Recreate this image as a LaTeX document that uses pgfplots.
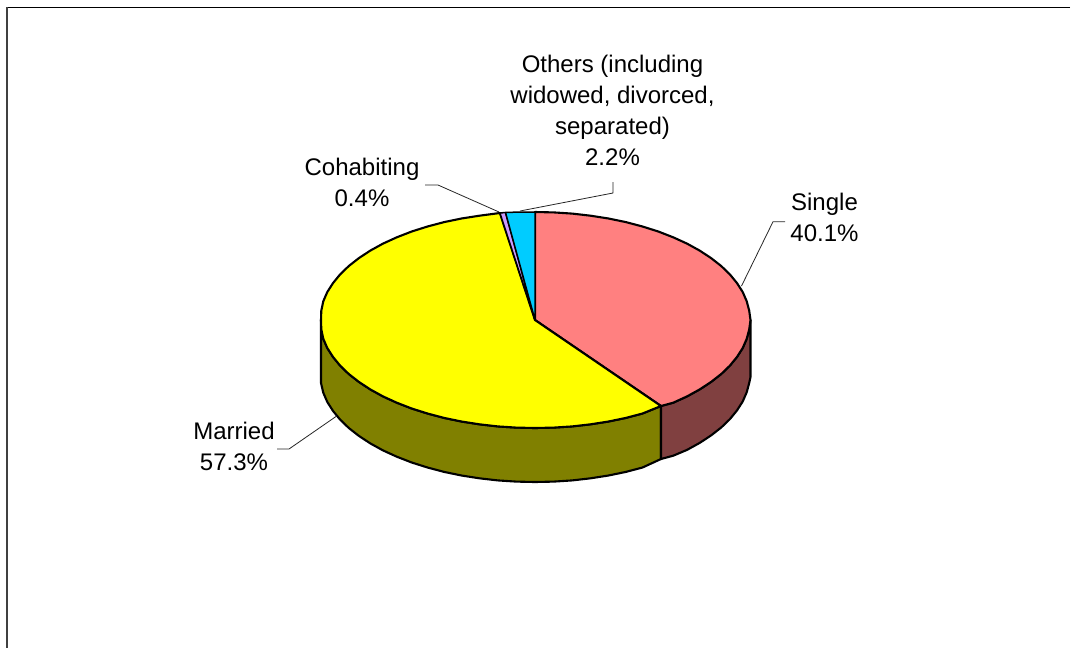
\documentclass[border=0pt]{standalone}
\usepackage{pgfplots}
\pgfplotsset{compat=1.18}
\usepackage{fontspec}
\setmainfont{Liberation Sans}
\definecolor{pinkS}{HTML}{FF8080}
\definecolor{brownS}{HTML}{804040}
\definecolor{yelM}{HTML}{FFFF00}
\definecolor{oliveM}{HTML}{808000}
\definecolor{purC}{HTML}{CC99FF}
\definecolor{cyanO}{HTML}{00CCFF}
\tikzset{lbl/.style={font=\fontsize{24}{31}\selectfont, align=center, anchor=center, inner sep=0pt}}
\begin{document}
\begin{tikzpicture}[x=1pt,y=1pt]
\begin{axis}[
  scale only axis, width=1076pt, height=648pt,
  xmin=0, xmax=1076, ymin=0, ymax=648, y dir=reverse,
  axis lines=none, clip=false,
  every axis plot/.append style={line join=round},
]
% page extent
\addplot[draw=none] coordinates {(0,0)(1076,648)};
% frame
\addplot[black, line width=1.3pt] coordinates {(1070,7.5) (7,7.5)};
\addplot[black!75, line width=1.8pt] coordinates {(7,7) (7,648)};
% side walls
\addplot[fill=oliveM, draw=black, line width=2.1pt] coordinates {
(661,406)(642.5,413.5)(625.9,417.9)(608.5,421.5)(590.6,424.3)(572.3,426.4)(553.7,427.6)(535,428)(516.3,427.6)(497.7,426.4)(479.4,424.3)(461.5,421.5)(444.1,417.9)(427.5,413.5)(411.7,408.5)(396.8,402.7)(383,396.4)(370.3,389.4)(358.9,381.9)(348.8,374)(340.1,365.6)(333,356.9)(327.3,348)(323.3,338.8)(321.3,329.4)(321,320)
(321,383)(323.3,392.8)(327.3,402)(333,410.9)(340.1,419.6)(348.8,428)(358.9,435.9)(370.3,443.4)(383,450.4)(396.8,456.7)(411.7,462.5)(427.5,467.5)(444.1,471.9)(461.5,475.5)(479.4,478.3)(497.7,480.4)(516.3,481.6)(535,482)(553.7,481.6)(572.3,480.4)(590.6,478.3)(608.5,475.5)(625.9,471.9)(642.5,467.5)(661,459)} -- cycle;
\addplot[fill=brownS, draw=black, line width=2.1pt] coordinates {
(750.5,320)(749.2,329.4)(746.7,338.8)(742.7,348)(737,356.9)(729.9,365.6)(721.2,374)(711.1,381.9)(699.7,389.4)(687,396.4)(673.2,402.7)(661,406)
(661,459)(673.2,455.7)(687,449.9)(699.7,442.9)(711.1,435.4)(721.2,427.5)(729.9,419.1)(737,410.4)(742.7,401.5)(746.7,392.3)(749.2,383)(750.5,377)} -- cycle;
% top wedges
\addplot[fill=pinkS, draw=black, line width=2.1pt] coordinates {
(535,320)(535,212)(553.7,212.4)(572.3,213.6)(590.6,215.7)(608.5,218.5)(625.9,222.1)(642.5,226.5)(658.3,231.5)(673.2,237.3)(687,243.6)(699.7,250.6)(711.1,258.1)(721.2,266)(729.9,274.4)(737,283.1)(742.7,292)(746.7,301.2)(749.2,310.6)(750.5,320)(749.2,329.4)(746.7,338.8)(742.7,348)(737,356.9)(729.9,365.6)(721.2,374)(711.1,381.9)(699.7,389.4)(687,396.4)(673.2,402.7)(661,406)} -- cycle;
\addplot[fill=yelM, draw=black, line width=2.1pt] coordinates {
(535,320)(661,406)(642.5,413.5)(625.9,417.9)(608.5,421.5)(590.6,424.3)(572.3,426.4)(553.7,427.6)(535,428)(516.3,427.6)(497.7,426.4)(479.4,424.3)(461.5,421.5)(444.1,417.9)(427.5,413.5)(411.7,408.5)(396.8,402.7)(383,396.4)(370.3,389.4)(358.9,381.9)(348.8,374)(340.1,365.6)(333,356.9)(327.3,348)(323.3,338.8)(321.3,329.4)(321,320)(321.3,310.6)(323.3,301.2)(327.3,292)(333,283.1)(340.1,274.4)(348.8,266)(358.9,258.1)(370.3,250.6)(383,243.6)(396.8,237.3)(411.7,231.5)(427.5,226.5)(444.1,222.1)(461.5,218.5)(479.4,215.7)(499.9,213)} -- cycle;
\addplot[fill=purC, draw=black, line width=1.5pt] coordinates {
(535,320)(499.9,213)(505.5,212.5)} -- cycle;
\addplot[fill=cyanO, draw=black, line width=1.5pt] coordinates {
(535,320)(505.5,212.5)(520,212)(535,212)} -- cycle;
% leaders
\addplot[black!85, line width=0.8pt] coordinates {(741.5,286)(773,221.7)(785,221.7)};
\addplot[black!85, line width=0.8pt] coordinates {(520,211)(613,193)(613,182)};
\addplot[black!85, line width=0.8pt] coordinates {(425,185)(438,185)(499,212)};
\addplot[black!85, line width=0.8pt] coordinates {(336.7,416)(289,449)(277,449)};
% labels
\node[lbl] at (axis cs:612.5,110) {Others (including\\widowed, divorced,\\separated)\\2.2\%};
\node[lbl] at (axis cs:824.5,217.5) {Single\\40.1\%};
\node[lbl] at (axis cs:362,182.5) {Cohabiting\\0.4\%};
\node[lbl] at (axis cs:234,446) {Married\\57.3\%};
\end{axis}
\end{tikzpicture}
\end{document}
